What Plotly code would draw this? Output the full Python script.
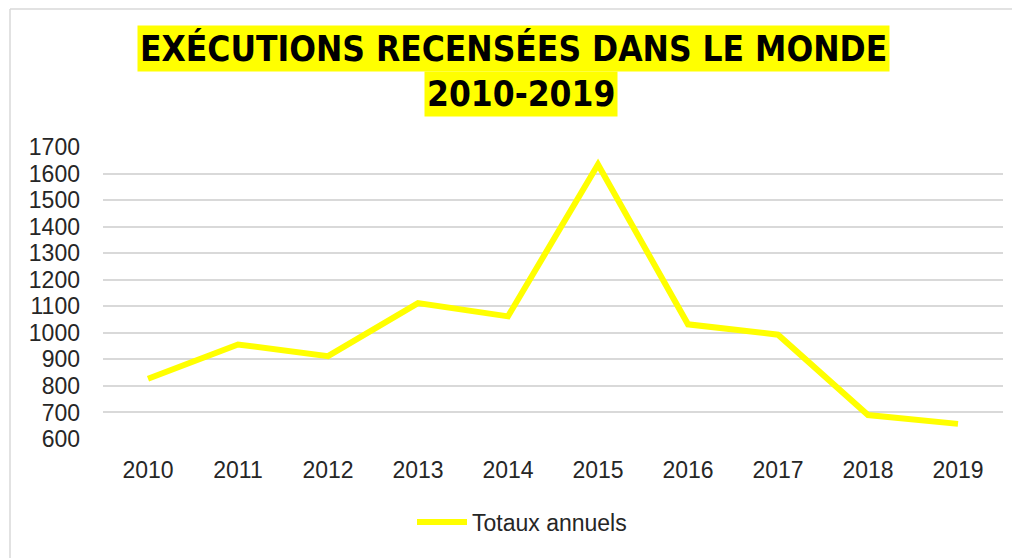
import plotly.graph_objects as go

years = ["2010", "2011", "2012", "2013", "2014", "2015", "2016", "2017", "2018", "2019"]
totaux = [827, 956, 912, 1112, 1062, 1634, 1032, 993, 690, 657]
yticks = [600, 700, 800, 900, 1000, 1100, 1200, 1300, 1400, 1500, 1600, 1700]
title_line1 = "EXÉCUTIONS RECENSÉES DANS LE MONDE"
title_line2 = "2010-2019"

fig = go.Figure()
fig.add_trace(go.Scatter(
    x=years, y=totaux, mode="lines", name="Totaux annuels",
    line=dict(color="#FFFF00", width=6),
))

W, H = 1020, 558
OFF = 8  # page body margin offset
ml, mt = 103 - OFF, 147 - OFF
pw, ph = 900, 292
mr, mb = W - ml - pw, H - mt - ph

def px(x):  # screen x -> paper
    return (x - OFF - ml) / pw

def py(y):  # screen y -> paper
    return (H - mb - (y - OFF)) / ph

def cy(y):  # screen y -> container
    return 1 - (y - OFF) / H

def cx(x):
    return (x - OFF) / W

title_font = dict(family="DejaVu Sans Condensed, DejaVu Sans, sans-serif", size=35, color="black")
tick_font = dict(family="Liberation Sans, Arial, sans-serif", size=23, color="#262626")

fig.update_layout(
    width=W, height=H,
    margin=dict(l=ml, r=mr, t=mt, b=mb, autoexpand=False),
    paper_bgcolor="white", plot_bgcolor="white",
    font=dict(family="Liberation Sans, Arial, sans-serif", size=23, color="#262626"),
    showlegend=True,
    legend=dict(orientation="h", x=cx(522), xanchor="center", xref="container",
                y=cy(522), yanchor="middle", yref="container",
                font=tick_font, itemwidth=50),
    xaxis=dict(range=[-0.5, 9.5], showgrid=False, showline=False, ticks="",
               ticklabelstandoff=15, tickfont=tick_font, fixedrange=True),
    yaxis=dict(range=[600, 1700], tickvals=yticks, showgrid=True, gridcolor="#D9D9D9",
               gridwidth=1.5, zeroline=False, showline=False, ticks="",
               ticklabelstandoff=22, tickfont=tick_font),
    annotations=[
        dict(text="<b>" + title_line1 + "</b>", x=px(513), xref="paper", y=py(48), yref="paper",
             xanchor="center", yanchor="middle", showarrow=False, bgcolor="#FFFF00",
             borderpad=2, font=title_font),
        dict(text="<b>" + title_line2 + "</b>", x=px(521), xref="paper", y=py(94), yref="paper",
             xanchor="center", yanchor="middle", showarrow=False, bgcolor="#FFFF00",
             borderpad=2, font=title_font),
    ],
)

fig.add_shape(type="line", xref="paper", yref="paper", x0=px(10), x1=px(1030), y0=py(9), y1=py(9),
              line=dict(color="#D9D9D9", width=1.5), layer="below")
fig.add_shape(type="line", xref="paper", yref="paper", x0=px(10), x1=px(10), y0=py(9), y1=py(570),
              line=dict(color="#D9D9D9", width=1.5), layer="below")

fig.write_html("out.html")
